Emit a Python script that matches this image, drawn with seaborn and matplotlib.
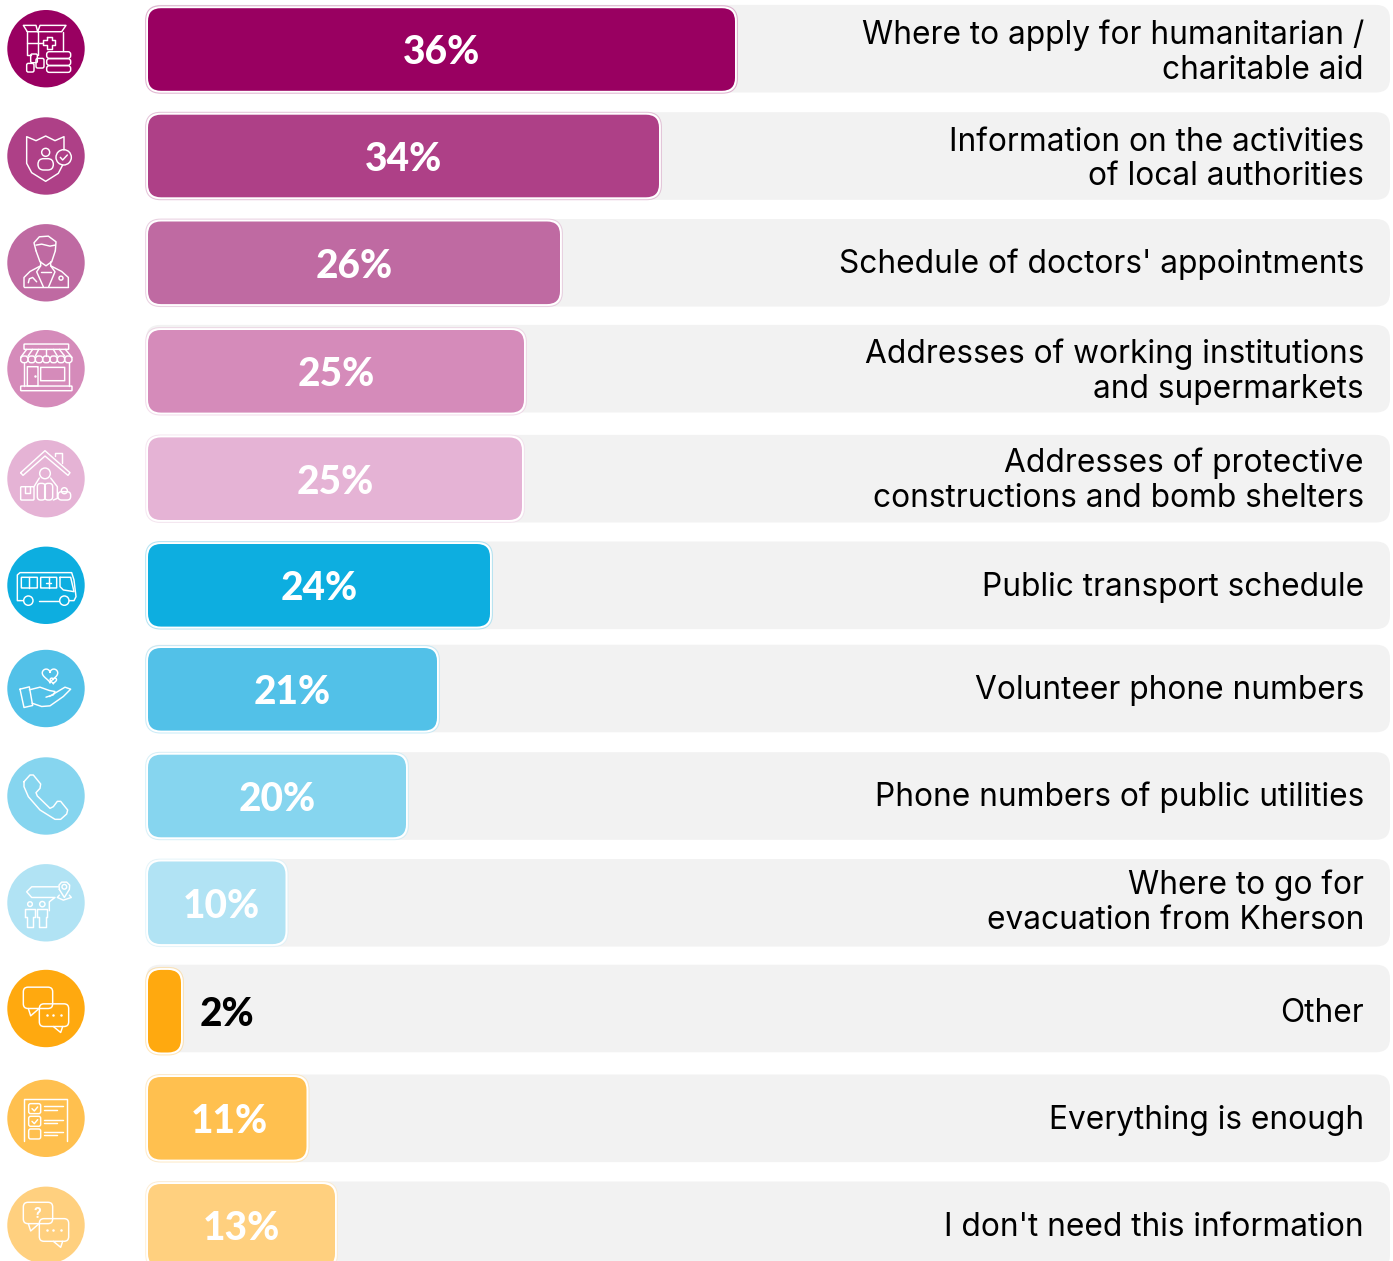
import numpy as np
import pandas as pd
import seaborn as sns
import matplotlib.pyplot as plt
from matplotlib.colors import to_rgba
from matplotlib.patches import FancyBboxPatch, Circle

sns.set_theme(style="white")
plt.rcParams['font.family'] = ['Inter', 'DejaVu Sans']

# 1. DATA
categories = [
    "Where to apply for humanitarian /\ncharitable aid",
    "Information on the activities\nof local authorities",
    "Schedule of doctors' appointments",
    "Addresses of working institutions\nand supermarkets",
    "Addresses of protective\nconstructions and bomb shelters",
    "Public transport schedule",
    "Volunteer phone numbers",
    "Phone numbers of public utilities",
    "Where to go for\nevacuation from Kherson",
    "Other",
    "Everything is enough",
    "I don't need this information",
]
percent_labels = ["36%", "34%", "26%", "25%", "25%", "24%", "21%", "20%", "10%", "2%", "11%", "13%"]
# drawn bar lengths as measured on the picture (not proportional to the percent)
bar_lengths = [587, 511, 412, 376, 374, 342, 289, 258, 137.5, 33, 158.5, 187]
track_lengths = [1242] * 12
colors = ["#990061", "#AE4087", "#BF6AA2", "#D58BBA", "#E5B3D5", "#0DAEE0",
          "#52C1E8", "#86D5EF", "#B1E3F4", "#FFA90F", "#FFC04F", "#FFD07F"]

# 2. LAYOUT
W, H = 1393, 1261
ROW = 106.9
row_nudge = [0, -.4, -.5, 1.1, 1.6, 1.3, -1.6, -1.8, -1.9, -.4, -.2, -.1]
icon_nudge = [-.8, 0, 0, -2.6, 0, 0, -.8, 0, 0, -2.7, 0, 0]
text_nudge = [1.5, 2, 0, -1, .5, 1, 0, 0, -1.5, 1, 1, 1]
pct_nudge = [0, 0, 0, 0, 0, 0, 0, 0, 5, 0, 2, 0]
BAR_H, TRACK_H = 82.6, 87.6

df = pd.DataFrame({"cat": categories, "bar": bar_lengths, "track": track_lengths})

fig = plt.figure(figsize=(W / 100, H / 100), dpi=100)
ax = fig.add_axes([0, 0, 1, 1])
sns.barplot(data=df, x="track", y="cat", color="#f2f2f2", width=TRACK_H / ROW, ax=ax)
n_track = len(ax.patches)
sns.barplot(data=df, x="bar", y="cat", hue="cat", palette=colors, dodge=False,
            legend=False, width=BAR_H / ROW, ax=ax)
ax.set_xlim(-148, W - 148)
ax.set_ylim((H - 49.5) / ROW, -49.5 / ROW)
ax.axis("off")

# swap the square bars for rounded ones
bars = list(ax.patches)
aspect = 1 / ROW
def rounded(x, y, w, h, r, **kw):
    ax.add_patch(FancyBboxPatch((x, y), w, h, boxstyle=f"round,pad=0,rounding_size={r}",
                                mutation_scale=1, mutation_aspect=aspect, **kw))

tracks = sorted(bars[:n_track], key=lambda b: b.get_y())
fills = sorted(bars[n_track:], key=lambda b: b.get_y())
for b in bars:
    b.set_visible(False)

for i, (t, b) in enumerate(zip(tracks, fills)):
    dy = row_nudge[i] / ROW
    dy_track = (row_nudge[i] + icon_nudge[i]) / ROW
    rounded(t.get_x() - 2, t.get_y() + dy_track, t.get_width() + 2, t.get_height(), 14,
            fc="#f2f2f2", ec="none", zorder=3)
    g = 2.4
    ring = to_rgba(colors[i], 0.28)
    rounded(-g, b.get_y() + dy - g / ROW, b.get_width() + 2 * g, b.get_height() + 2 * g / ROW, 15,
            fc="white", ec=ring, lw=0.8, zorder=4)
    rounded(0, b.get_y() + dy, b.get_width(), b.get_height(), 13, fc=colors[i], ec="none", zorder=5)

    yc = i + dy
    if percent_labels[i] == "2%":
        ax.text(52, yc, percent_labels[i], ha="left", va="center_baseline", color="black",
                fontsize=28, fontweight=900, family=["Lato", "DejaVu Sans"], zorder=6)
    else:
        ax.text(b.get_width() / 2 + pct_nudge[i], yc, percent_labels[i], ha="center", va="center_baseline",
                color="white", fontsize=28, fontweight=900, family=["Lato", "DejaVu Sans"], zorder=6)
    ax.text(1216, yc + (1.5 + text_nudge[i]) / ROW, categories[i], ha="right", va="center", color="black",
            fontsize=22.8, linespacing=1.16, zorder=6)

# 3. ICONS (outline drawings, coordinates as read on a 3x zoom of each circle)
ic = fig.add_axes([0, 0, 1, 1], facecolor="none")
ic.set_xlim(0, W)
ic.set_ylim(H, 0)
ic.axis("off")

def bubbles(y1, y2):
    return [("b", 70, y1, 158, y1 + 64, 14), ("l", [(85, y1 + 64), (92, y1 + 86), (115, y1 + 66)]),
            ("b", 118, y2, 206, y2 + 68, 14), ("l", [(160, y2 + 68), (182, y2 + 86), (188, y2 + 68)]),
            ("d", [(140, y2 + 34), (160, y2 + 34), (182, y2 + 34)])]

icons = [
    (146, [("l", [(82, 95), (70, 76), (108, 76), (113, 95), (120, 76), (198, 76), (185, 95), (82, 95)]),
           ("l", [(82, 95), (82, 165), (92, 165)]), ("l", [(113, 95), (113, 165)]), ("l", [(190, 95), (190, 152)]),
           ("l", [(82, 128), (130, 128)]),
           ("l", [(140, 110), (156, 110), (156, 120), (166, 120), (166, 136), (156, 136), (156, 148),
                  (140, 148), (140, 136), (130, 136), (130, 120), (140, 120), (140, 110)]),
           ("b", 140, 155, 212, 175, 8), ("b", 140, 176, 212, 196, 8), ("b", 140, 197, 212, 217, 8),
           ("b", 80, 190, 102, 216, 5), ("b", 108, 175, 132, 204, 5), ("b", 92, 162, 112, 188, 4)]),
    (468, [("l", [(192, 450), (192, 410), (165, 422), (137, 408), (108, 422), (80, 410), (80, 490),
                  (95, 518), (137, 544), (175, 520), (188, 495)]),
           ("c", 137, 457, 12), ("b", 114, 476, 160, 510, 17), ("c", 191, 472, 23),
           ("l", [(181, 472), (188, 480), (202, 465)])]),
    (788, [("l", [(108, 752), (102, 728), (118, 710), (145, 708), (168, 725), (166, 752)]),
           ("l", [(108, 735), (125, 732), (150, 738), (165, 735)]),
           ("l", [(108, 752), (120, 785), (138, 797), (155, 785), (166, 752)]),
           ("l", [(72, 860), (72, 832), (90, 814), (122, 797), (122, 785)]),
           ("l", [(205, 860), (205, 832), (185, 814), (152, 797), (152, 785)]),
           ("l", [(72, 860), (205, 860)]),
           ("l", [(122, 797), (110, 815), (130, 860)]), ("l", [(152, 797), (165, 815), (146, 860)]),
           ("l", [(122, 815), (152, 815)]), ("c", 183, 834, 6),
           ("l", [(85, 848), (88, 836), (98, 832), (110, 845)])]),
    (146, [("b", 72, 72, 206, 88, 2), ("l", [(80, 88), (62, 112)]), ("l", [(196, 88), (216, 112)]),
           ("b", 62, 108, 84, 128, 9), ("b", 84, 108, 106, 128, 9), ("b", 106, 108, 128, 128, 9),
           ("b", 128, 108, 150, 128, 9), ("b", 150, 108, 172, 128, 9), ("b", 172, 108, 194, 128, 9),
           ("b", 194, 108, 216, 128, 9),
           ("l", [(98, 88), (84, 108)]), ("l", [(116, 88), (106, 108)]), ("l", [(138, 88), (138, 108)]),
           ("l", [(160, 88), (172, 108)]), ("l", [(178, 88), (194, 108)]),
           ("l", [(72, 128), (72, 198)]), ("l", [(206, 128), (206, 198)]),
           ("b", 82, 140, 114, 198, 0), ("b", 122, 142, 194, 182, 0), ("b", 62, 198, 216, 212, 2),
           ("d", [(105, 168)])]),
    (476, [("l", [(62, 458), (135, 392), (210, 458), (204, 466), (135, 408), (69, 466), (62, 458)]),
           ("l", [(165, 408), (165, 398), (185, 398), (185, 430)]), ("c", 135, 460, 16),
           ("l", [(102, 500), (118, 474)]), ("l", [(152, 474), (172, 500), (172, 535), (160, 540)]),
           ("b", 112, 490, 136, 540, 10), ("b", 134, 490, 158, 540, 10),
           ("b", 62, 500, 102, 540, 3), ("l", [(75, 500), (75, 518), (90, 518), (90, 500)]),
           ("b", 174, 515, 212, 540, 11), ("c", 193, 512, 9)]),
    (796, [("l", [(70, 842), (52, 842), (52, 765), (60, 758), (215, 758), (222, 780), (228, 830), (222, 842), (208, 842)]),
           ("l", [(118, 842), (178, 842)]), ("c", 85, 842, 14), ("c", 193, 842, 14),
           ("b", 64, 772, 112, 804, 1), ("l", [(88, 772), (88, 804)]),
           ("b", 122, 772, 170, 804, 1), ("l", [(146, 772), (146, 804)]), ("l", [(138, 788), (154, 788)]),
           ("l", [(180, 772), (212, 772), (222, 815), (190, 810), (180, 800), (180, 772)])]),
    (146, [("h", 150, 105, 2.9), ("h", 160, 122, 1.2),
           ("l", [(60, 148), (88, 141), (98, 197), (72, 203), (60, 148)]),
           ("l", [(88, 150), (120, 142), (148, 152), (165, 155), (160, 165), (138, 172)]),
           ("l", [(148, 170), (195, 142), (212, 148), (190, 170), (150, 198), (125, 200), (96, 190)])]),
    (468, [("l", [(72, 425), (90, 405), (100, 405), (122, 432), (120, 445), (108, 458), (112, 468), (150, 505),
                  (160, 500), (172, 484), (182, 484), (203, 510), (200, 522), (182, 538), (165, 538),
                  (120, 510), (85, 470), (72, 440), (72, 425)])]),
    (788, [("c", 193, 740, 7), ("l", [(178, 748), (177, 735), (185, 726), (200, 726), (209, 735), (208, 748), (193, 772), (178, 748)]),
           ("l", [(178, 765), (172, 772), (190, 780), (214, 772), (208, 765)]),
           ("l", [(175, 740), (95, 740), (80, 755), (95, 772), (165, 772), (148, 785), (148, 812)]),
           ("c", 90, 792, 7), ("c", 127, 792, 8),
           ("l", [(75, 832), (75, 806), (105, 806), (105, 832), (100, 832), (100, 860), (80, 860), (80, 832), (75, 832)]),
           ("l", [(112, 832), (112, 806), (142, 806), (142, 832), (137, 832), (137, 860), (117, 860), (117, 832), (112, 832)])]),
    (176, bubbles(112, 162)),
    (506, [("l", [(72, 575), (72, 448), (202, 448), (202, 575)]),
           ("b", 86, 462, 122, 492, 6), ("b", 86, 500, 122, 530, 6), ("b", 86, 538, 122, 568, 6),
           ("l", [(96, 477), (103, 484), (113, 472)]), ("l", [(96, 515), (103, 522), (113, 510)]),
           ("l", [(132, 470), (188, 470)]), ("l", [(132, 482), (170, 482)]),
           ("l", [(132, 510), (188, 510)]), ("l", [(132, 520), (170, 520)]),
           ("l", [(132, 547), (188, 547)]), ("l", [(132, 557), (170, 557)])]),
    (826, bubbles(757, 806) + [("t", 113, 792, "?")]),
]

LW = 1.05
for i, (zy, shapes) in enumerate(icons):
    cx, cy = 46, 49.5 + i * ROW + row_nudge[i] + icon_nudge[i]
    ic.add_patch(Circle((cx, cy), 38.7, fc=colors[i], ec="none"))
    px = lambda zx: cx + (np.asarray(zx, dtype=float) - 138) / 3
    py = lambda zv: cy + (np.asarray(zv, dtype=float) - zy) / 3
    for s in shapes:
        if s[0] == "l":
            pts = np.array(s[1])
            ic.plot(px(pts[:, 0]), py(pts[:, 1]), color="white", lw=LW, solid_joinstyle="round", solid_capstyle="round")
        elif s[0] == "b":
            x0, y0, x1, y1, r = s[1:]
            ic.add_patch(FancyBboxPatch((px(x0), py(y0)), (x1 - x0) / 3, (y1 - y0) / 3,
                                        boxstyle=f"round,pad=0,rounding_size={max(r, 0.01) / 3}",
                                        mutation_scale=1, fc="none", ec="white", lw=LW))
        elif s[0] == "c":
            ic.add_patch(Circle((px(s[1]), py(s[2])), s[3] / 3, fc="none", ec="white", lw=LW))
        elif s[0] == "d":
            pts = np.array(s[1])
            ic.plot(px(pts[:, 0]), py(pts[:, 1]), ls="none", marker="o", ms=1.8, color="white", mew=0)
        elif s[0] == "h":
            t = np.linspace(0, 2 * np.pi, 60)
            hx = 16 * np.sin(t) ** 3
            hy = -(13 * np.cos(t) - 5 * np.cos(2 * t) - 2 * np.cos(3 * t) - np.cos(4 * t))
            ic.plot(px(s[1] + s[3] * hx / 2), py(s[2] + s[3] * hy / 2), color="white", lw=LW)
        elif s[0] == "t":
            ic.text(px(s[1]), py(s[2]), s[3], color="white", fontsize=10, fontweight="bold", ha="center", va="center")

fig.savefig("out.png", dpi=100)
